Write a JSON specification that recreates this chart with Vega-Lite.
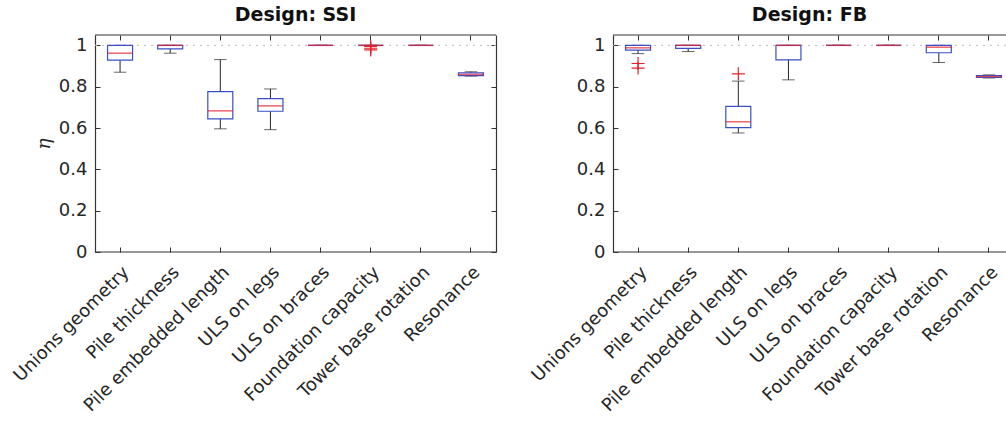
{
  "$schema": "https://vega.github.io/schema/vega-lite/v6.json",
  "background": "white",
  "padding": {"left": 10, "top": 6, "right": 0, "bottom": 0},
  "spacing": 31,
  "datasets": {
    "stats": [
      {"design": "SSI", "cat": "Unions geometry", "lo": 0.870, "q1": 0.928, "med": 0.962, "q3": 1.0, "hi": 1.0},
      {"design": "SSI", "cat": "Pile thickness", "lo": 0.962, "q1": 0.983, "med": 1.0, "q3": 1.0, "hi": 1.0},
      {"design": "SSI", "cat": "Pile embedded length", "lo": 0.596, "q1": 0.644, "med": 0.683, "q3": 0.776, "hi": 0.931},
      {"design": "SSI", "cat": "ULS on legs", "lo": 0.592, "q1": 0.681, "med": 0.707, "q3": 0.742, "hi": 0.789},
      {"design": "SSI", "cat": "ULS on braces", "lo": 1.0, "q1": 1.0, "med": 1.0, "q3": 1.0, "hi": 1.0},
      {"design": "SSI", "cat": "Foundation capacity", "lo": 1.0, "q1": 1.0, "med": 1.0, "q3": 1.0, "hi": 1.0},
      {"design": "SSI", "cat": "Tower base rotation", "lo": 1.0, "q1": 1.0, "med": 1.0, "q3": 1.0, "hi": 1.0},
      {"design": "SSI", "cat": "Resonance", "lo": 0.851, "q1": 0.853, "med": 0.859, "q3": 0.867, "hi": 0.872},
      {"design": "FB", "cat": "Unions geometry", "lo": 0.960, "q1": 0.977, "med": 0.988, "q3": 1.0, "hi": 1.0},
      {"design": "FB", "cat": "Pile thickness", "lo": 0.970, "q1": 0.985, "med": 1.0, "q3": 1.0, "hi": 1.0},
      {"design": "FB", "cat": "Pile embedded length", "lo": 0.576, "q1": 0.602, "med": 0.630, "q3": 0.705, "hi": 0.827},
      {"design": "FB", "cat": "ULS on legs", "lo": 0.833, "q1": 0.930, "med": 1.0, "q3": 1.0, "hi": 1.0},
      {"design": "FB", "cat": "ULS on braces", "lo": 1.0, "q1": 1.0, "med": 1.0, "q3": 1.0, "hi": 1.0},
      {"design": "FB", "cat": "Foundation capacity", "lo": 1.0, "q1": 1.0, "med": 1.0, "q3": 1.0, "hi": 1.0},
      {"design": "FB", "cat": "Tower base rotation", "lo": 0.917, "q1": 0.964, "med": 0.991, "q3": 1.0, "hi": 1.0},
      {"design": "FB", "cat": "Resonance", "lo": 0.842, "q1": 0.845, "med": 0.849, "q3": 0.853, "hi": 0.857}
    ],
    "outliers": [
      {"design": "SSI", "cat": "Foundation capacity", "v": 0.995},
      {"design": "SSI", "cat": "Foundation capacity", "v": 0.986},
      {"design": "SSI", "cat": "Foundation capacity", "v": 0.978},
      {"design": "FB", "cat": "Unions geometry", "v": 0.912},
      {"design": "FB", "cat": "Unions geometry", "v": 0.890},
      {"design": "FB", "cat": "Pile embedded length", "v": 0.862}
    ]
  },
  "hconcat": [
    {
      "title": "Design: SSI",
      "width": 401,
      "height": 217,
      "resolve": {"axis": {"x": "independent", "y": "independent"}},
      "layer": [
        {
          "data": {"values": [{"v": 1}]},
          "mark": {"type": "rule", "strokeDash": [2, 5], "color": "#b8b8b8", "strokeWidth": 1},
          "encoding": {
            "y": {"field": "v", "type": "quantitative",
              "scale": {"domain": [0, 1.05], "nice": false, "zero": true},
              "axis": {"orient": "left", "values": [0, 0.2, 0.4, 0.6, 0.8, 1], "format": "~g", "title": "η",
                "titleFont": "DejaVu Serif", "titleFontStyle": "italic", "titleFontWeight": "normal", "titleFontSize": 19, "titleColor": "#262626", "titlePadding": 5}}
          }
        },
        {
          "data": {"values": [{"v": 0}, {"v": 1.05}]},
          "mark": {"type": "rule", "color": "#333333", "strokeWidth": 1.2},
          "encoding": {"y": {"field": "v", "type": "quantitative", "axis": null}}
        },
        {
          "data": {"name": "stats"},
          "transform": [{"filter": "datum.design === 'SSI'"}],
          "mark": {"type": "rule", "color": "#262626", "strokeWidth": 1},
          "encoding": {
            "x": {"field": "cat", "type": "nominal", "sort": null,
              "scale": {"domain": ["Unions geometry", "Pile thickness", "Pile embedded length", "ULS on legs", "ULS on braces", "Foundation capacity", "Tower base rotation", "Resonance"], "paddingInner": 0, "paddingOuter": 0},
              "axis": {"orient": "bottom", "title": null, "labelAngle": -45, "domain": false, "labelPadding": 16, "labelLimit": 0}},
            "y": {"field": "lo", "type": "quantitative", "axis": null},
            "y2": {"field": "hi"}
          }
        },
        {
          "data": {"name": "stats"},
          "transform": [{"filter": "datum.design === 'SSI'"}],
          "mark": {"type": "tick", "color": "#262626", "size": 12.5, "thickness": 1},
          "encoding": {
            "x": {"field": "cat", "type": "nominal", "axis": {"orient": "top", "title": null, "labels": false, "domain": false}},
            "y": {"field": "lo", "type": "quantitative", "axis": null}
          }
        },
        {
          "data": {"name": "stats"},
          "transform": [{"filter": "datum.design === 'SSI'"}],
          "mark": {"type": "tick", "color": "#262626", "size": 12.5, "thickness": 1},
          "encoding": {
            "x": {"field": "cat", "type": "nominal", "axis": null},
            "y": {"field": "hi", "type": "quantitative", "axis": null}
          }
        },
        {
          "data": {"name": "stats"},
          "transform": [{"filter": "datum.design === 'SSI'"}],
          "mark": {"type": "bar", "size": 25, "fill": "white", "stroke": "#3b4fc4", "strokeWidth": 1.2},
          "encoding": {
            "x": {"field": "cat", "type": "nominal", "axis": null},
            "y": {"field": "q1", "type": "quantitative",
              "axis": {"orient": "right", "values": [0, 0.2, 0.4, 0.6, 0.8, 1], "labels": false, "title": null}},
            "y2": {"field": "q3"}
          }
        },
        {
          "data": {"name": "stats"},
          "transform": [{"filter": "datum.design === 'SSI'"}],
          "mark": {"type": "tick", "color": "#e8202a", "size": 25, "thickness": 1.5},
          "encoding": {
            "x": {"field": "cat", "type": "nominal", "axis": null},
            "y": {"field": "med", "type": "quantitative", "axis": null}
          }
        },
        {
          "data": {"name": "outliers"},
          "transform": [{"filter": "datum.design === 'SSI'"}],
          "mark": {"type": "point", "shape": "M-1,0L1,0M0,-1L0,1", "filled": false, "stroke": "#e8202a", "strokeWidth": 1.2, "size": 170, "opacity": 1},
          "encoding": {
            "x": {"field": "cat", "type": "nominal", "axis": null},
            "y": {"field": "v", "type": "quantitative", "axis": null}
          }
        }
      ]
    },
    {
      "title": "Design: FB",
      "width": 393,
      "height": 217,
      "resolve": {"axis": {"x": "independent", "y": "independent"}},
      "layer": [
        {
          "data": {"values": [{"v": 1}]},
          "mark": {"type": "rule", "strokeDash": [2, 5], "color": "#b8b8b8", "strokeWidth": 1},
          "encoding": {
            "y": {"field": "v", "type": "quantitative",
              "scale": {"domain": [0, 1.05], "nice": false, "zero": true},
              "axis": {"orient": "left", "values": [0, 0.2, 0.4, 0.6, 0.8, 1], "format": "~g", "title": null}}
          }
        },
        {
          "data": {"values": [{"v": 0}, {"v": 1.05}]},
          "mark": {"type": "rule", "color": "#333333", "strokeWidth": 1.2},
          "encoding": {"y": {"field": "v", "type": "quantitative", "axis": null}}
        },
        {
          "data": {"name": "stats"},
          "transform": [{"filter": "datum.design === 'FB'"}],
          "mark": {"type": "rule", "color": "#262626", "strokeWidth": 1},
          "encoding": {
            "x": {"field": "cat", "type": "nominal", "sort": null,
              "scale": {"domain": ["Unions geometry", "Pile thickness", "Pile embedded length", "ULS on legs", "ULS on braces", "Foundation capacity", "Tower base rotation", "Resonance"], "paddingInner": 0, "paddingOuter": 0, "range": [0, 401]},
              "axis": {"orient": "bottom", "title": null, "labelAngle": -45, "domain": false, "labelPadding": 16, "labelLimit": 0}},
            "y": {"field": "lo", "type": "quantitative", "axis": null},
            "y2": {"field": "hi"}
          }
        },
        {
          "data": {"name": "stats"},
          "transform": [{"filter": "datum.design === 'FB'"}],
          "mark": {"type": "tick", "color": "#262626", "size": 12.5, "thickness": 1},
          "encoding": {
            "x": {"field": "cat", "type": "nominal", "axis": {"orient": "top", "title": null, "labels": false, "domain": false}},
            "y": {"field": "lo", "type": "quantitative", "axis": null}
          }
        },
        {
          "data": {"name": "stats"},
          "transform": [{"filter": "datum.design === 'FB'"}],
          "mark": {"type": "tick", "color": "#262626", "size": 12.5, "thickness": 1},
          "encoding": {
            "x": {"field": "cat", "type": "nominal", "axis": null},
            "y": {"field": "hi", "type": "quantitative", "axis": null}
          }
        },
        {
          "data": {"name": "stats"},
          "transform": [{"filter": "datum.design === 'FB'"}],
          "mark": {"type": "bar", "size": 25, "fill": "white", "stroke": "#3b4fc4", "strokeWidth": 1.2},
          "encoding": {
            "x": {"field": "cat", "type": "nominal", "axis": null},
            "y": {"field": "q1", "type": "quantitative", "axis": null},
            "y2": {"field": "q3"}
          }
        },
        {
          "data": {"name": "stats"},
          "transform": [{"filter": "datum.design === 'FB'"}],
          "mark": {"type": "tick", "color": "#e8202a", "size": 25, "thickness": 1.5},
          "encoding": {
            "x": {"field": "cat", "type": "nominal", "axis": null},
            "y": {"field": "med", "type": "quantitative", "axis": null}
          }
        },
        {
          "data": {"name": "outliers"},
          "transform": [{"filter": "datum.design === 'FB'"}],
          "mark": {"type": "point", "shape": "M-1,0L1,0M0,-1L0,1", "filled": false, "stroke": "#e8202a", "strokeWidth": 1.2, "size": 170, "opacity": 1},
          "encoding": {
            "x": {"field": "cat", "type": "nominal", "axis": null},
            "y": {"field": "v", "type": "quantitative", "axis": null}
          }
        }
      ]
    }
  ],
  "config": {
    "view": {"stroke": null},
    "axis": {
      "grid": false,
      "labelFont": "DejaVu Sans",
      "labelFontSize": 18,
      "labelColor": "#262626",
      "domainColor": "#333333",
      "domainWidth": 1.2,
      "tickColor": "#333333",
      "tickWidth": 1,
      "tickSize": -5,
      "labelPadding": 13
    },
    "title": {"font": "DejaVu Sans", "fontSize": 19, "fontWeight": "bold", "color": "#111111", "offset": 9}
  }
}
